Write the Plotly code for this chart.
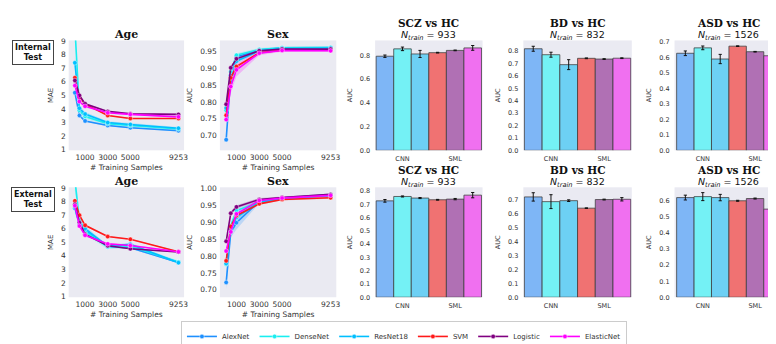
import plotly.graph_objects as go

W, H = 776, 344

MODELS = ["AlexNet", "DenseNet", "ResNet18", "SVM", "Logistic", "ElasticNet"]
LINE_COLORS = ["#1e90ff", "#19eef0", "#00bfff", "#ff1a1a", "#800080", "#ff00ff"]
BAR_COLORS = ["#7eb6f6", "#74f1f5", "#6dd0f4", "#f07272", "#b070b4", "#f070f0"]

X_SAMPLES = [100, 500, 1000, 3000, 5000, 9253]
X_TICKS = [1000, 3000, 5000, 9253]

# Internal test - Age (MAE)
AGE_INT = {
    "AlexNet":    [5.2, 3.52, 3.12, 2.78, 2.62, 2.40],
    "DenseNet":   [10.0, 3.90, 3.45, 2.92, 2.78, 2.52],
    "ResNet18":   [7.4, 4.05, 3.62, 3.00, 2.86, 2.58],
    "SVM":        [6.3, 4.85, 4.35, 3.52, 3.30, 3.30],
    "Logistic":   [6.1, 5.00, 4.38, 3.82, 3.65, 3.60],
    "ElasticNet": [5.72, 4.55, 4.20, 3.72, 3.60, 3.42],
}
AGE_INT_CI = {
    "AlexNet":    [0.10, 0.08, 0.06, 0.05, 0.05, 0.05],
    "DenseNet":   [0.60, 0.30, 0.20, 0.10, 0.10, 0.10],
    "ResNet18":   [0.50, 0.25, 0.15, 0.10, 0.10, 0.10],
    "SVM":        [0.08, 0.06, 0.05, 0.04, 0.04, 0.04],
    "Logistic":   [0.10, 0.08, 0.06, 0.05, 0.05, 0.05],
    "ElasticNet": [0.15, 0.12, 0.10, 0.08, 0.06, 0.06],
}
# Internal test - Sex (AUC)
SEX_INT = {
    "AlexNet":    [0.687, 0.880, 0.935, 0.955, 0.961, 0.962],
    "DenseNet":   [0.775, 0.890, 0.940, 0.957, 0.962, 0.963],
    "ResNet18":   [0.782, 0.860, 0.922, 0.953, 0.960, 0.961],
    "SVM":        [0.760, 0.872, 0.906, 0.947, 0.955, 0.955],
    "Logistic":   [0.793, 0.902, 0.929, 0.953, 0.958, 0.958],
    "ElasticNet": [0.747, 0.846, 0.896, 0.946, 0.954, 0.953],
}
SEX_INT_CI = {
    "AlexNet":    [0.015, 0.010, 0.006, 0.004, 0.004, 0.004],
    "DenseNet":   [0.010, 0.008, 0.006, 0.004, 0.004, 0.004],
    "ResNet18":   [0.010, 0.010, 0.006, 0.004, 0.004, 0.004],
    "SVM":        [0.006, 0.006, 0.004, 0.003, 0.003, 0.003],
    "Logistic":   [0.006, 0.005, 0.004, 0.003, 0.003, 0.003],
    "ElasticNet": [0.012, 0.020, 0.020, 0.006, 0.004, 0.004],
}
# External test - Age (MAE)
AGE_EXT = {
    "AlexNet":    [7.5, 6.30, 5.90, 4.70, 4.60, 3.52],
    "DenseNet":   [9.6, 6.60, 5.80, 4.65, 4.70, 3.55],
    "ResNet18":   [7.6, 6.50, 6.00, 4.70, 4.85, 3.50],
    "SVM":        [8.05, 7.00, 6.25, 5.42, 5.22, 4.30],
    "Logistic":   [7.8, 6.45, 5.60, 4.75, 4.52, 4.28],
    "ElasticNet": [7.7, 6.20, 5.52, 4.88, 4.76, 4.30],
}
AGE_EXT_CI = {
    "AlexNet":    [0.20, 0.15, 0.10, 0.08, 0.08, 0.06],
    "DenseNet":   [0.80, 0.40, 0.25, 0.15, 0.15, 0.10],
    "ResNet18":   [0.50, 0.30, 0.20, 0.10, 0.12, 0.08],
    "SVM":        [0.08, 0.06, 0.05, 0.04, 0.04, 0.04],
    "Logistic":   [0.10, 0.08, 0.06, 0.05, 0.05, 0.05],
    "ElasticNet": [0.12, 0.10, 0.08, 0.06, 0.06, 0.05],
}
# External test - Sex (AUC)
SEX_EXT = {
    "AlexNet":    [0.722, 0.870, 0.899, 0.962, 0.972, 0.982],
    "DenseNet":   [0.776, 0.890, 0.935, 0.960, 0.970, 0.981],
    "ResNet18":   [0.778, 0.880, 0.915, 0.960, 0.970, 0.980],
    "SVM":        [0.786, 0.888, 0.920, 0.955, 0.968, 0.973],
    "Logistic":   [0.844, 0.927, 0.946, 0.968, 0.974, 0.983],
    "ElasticNet": [0.815, 0.872, 0.925, 0.965, 0.972, 0.980],
}
SEX_EXT_CI = {
    "AlexNet":    [0.020, 0.015, 0.020, 0.005, 0.004, 0.004],
    "DenseNet":   [0.010, 0.010, 0.008, 0.004, 0.004, 0.004],
    "ResNet18":   [0.010, 0.012, 0.012, 0.005, 0.004, 0.004],
    "SVM":        [0.006, 0.006, 0.005, 0.003, 0.003, 0.003],
    "Logistic":   [0.006, 0.006, 0.005, 0.004, 0.003, 0.003],
    "ElasticNet": [0.008, 0.010, 0.010, 0.005, 0.004, 0.004],
}

# Bar panels: AUC and error per model
SCZ_INT = [0.793, 0.855, 0.812, 0.823, 0.842, 0.863]
SCZ_INT_ERR = [0.010, 0.015, 0.030, 0.003, 0.003, 0.020]
BD_INT = [0.818, 0.770, 0.690, 0.741, 0.735, 0.742]
BD_INT_ERR = [0.020, 0.020, 0.040, 0.003, 0.003, 0.003]
ASD_INT = [0.627, 0.662, 0.590, 0.673, 0.637, 0.611]
ASD_INT_ERR = [0.015, 0.012, 0.030, 0.002, 0.002, 0.025]
SCZ_EXT = [0.727, 0.760, 0.748, 0.735, 0.740, 0.770]
SCZ_EXT_ERR = [0.010, 0.004, 0.004, 0.003, 0.005, 0.020]
BD_EXT = [0.722, 0.688, 0.695, 0.641, 0.703, 0.705]
BD_EXT_ERR = [0.030, 0.050, 0.006, 0.002, 0.003, 0.012]
ASD_EXT = [0.622, 0.628, 0.622, 0.602, 0.616, 0.550]
ASD_EXT_ERR = [0.015, 0.025, 0.020, 0.003, 0.003, 0.050]

GROUP_LABELS = ["CNN", "SML"]
N_TRAIN = {"SCZ": 933, "BD": 832, "ASD": 1526}

# ---------------- layout geometry (pixels) ----------------
ROWS = [(30, 146), (185, 301)]
COLS = [(61, 177), (213, 330), (369, 477), (518, 627), (670, 776)]

BG = "#eaeaf2"
TICKFONT = dict(family="DejaVu Sans", size=7.5, color="#333333")
SERIF = "DejaVu Serif"


def xdom(c):
    return [COLS[c][0] / W, COLS[c][1] / W]


def ydom(r):
    return [1 - ROWS[r][1] / H, 1 - ROWS[r][0] / H]


fig = go.Figure()
layout = {}
annotations = []


def rgba(hexc, a):
    h = hexc.lstrip("#")
    return "rgba(%d,%d,%d,%.2f)" % (int(h[0:2], 16), int(h[2:4], 16), int(h[4:6], 16), a)


def ax_name(k):
    return ("" if k == 1 else str(k))


def add_line_panel(r, c, data, ci, yrange, ytickvals, yfmt, ytitle, title, legend):
    k = r * 5 + c + 1
    xa, ya = "x" + ax_name(k), "y" + ax_name(k)
    for i, m in enumerate(MODELS):
        vals, err = data[m], ci[m]
        upper = [v + e for v, e in zip(vals, err)]
        lower = [v - e for v, e in zip(vals, err)]
        fig.add_trace(go.Scatter(
            x=X_SAMPLES + X_SAMPLES[::-1], y=upper + lower[::-1],
            fill="toself", fillcolor=rgba(LINE_COLORS[i], 0.22), line=dict(width=0),
            mode="lines", hoverinfo="skip", showlegend=False, xaxis=xa, yaxis=ya))
    for i, m in enumerate(MODELS):
        fig.add_trace(go.Scatter(
            x=X_SAMPLES, y=data[m], mode="lines+markers", name=m,
            line=dict(color=LINE_COLORS[i], width=1.6),
            marker=dict(size=4.5, color=LINE_COLORS[i], line=dict(width=0.6, color="rgba(255,255,255,0.7)")),
            showlegend=legend, xaxis=xa, yaxis=ya))
    layout["xaxis" + ax_name(k)] = dict(
        domain=xdom(c), anchor=ya, range=[-450, 9750], tickvals=X_TICKS,
        ticktext=[str(t) for t in X_TICKS], tickfont=TICKFONT, showgrid=False,
        zeroline=False, showline=False, ticks="", ticklabelstandoff=1,
        title=dict(text="# Training Samples", font=dict(family="DejaVu Sans", size=7.5, color="#333333"), standoff=3))
    layout["yaxis" + ax_name(k)] = dict(
        domain=ydom(r), anchor=xa, range=yrange, tickvals=ytickvals,
        ticktext=[yfmt.format(v) for v in ytickvals], tickfont=TICKFONT,
        showgrid=False, zeroline=False, showline=False, ticks="", ticklabelstandoff=2,
        title=dict(text=ytitle, font=dict(family="DejaVu Sans", size=7, color="#333333"), standoff=6))
    annotations.append(dict(
        text="<b>%s</b>" % title, x=(COLS[c][0] + COLS[c][1]) / 2 / W, y=1 - (ROWS[r][0] - 6) / H,
        xref="paper", yref="paper", xanchor="center", yanchor="middle", showarrow=False,
        font=dict(family=SERIF, size=11, color="#111111")))


def add_bar_panel(r, c, vals, errs, yrange, ytickvals, title, ntrain, xr=(-0.56, 5.56)):
    k = r * 5 + c + 1
    xa, ya = "x" + ax_name(k), "y" + ax_name(k)
    for i, m in enumerate(MODELS):
        fig.add_trace(go.Bar(
            x=[i], y=[vals[i]], width=1.0, name=m,
            marker=dict(color=BAR_COLORS[i], line=dict(color="rgba(60,60,60,0.85)", width=0.9)),
            error_y=dict(type="data", array=[errs[i]], color="#111111", thickness=1, width=1.6),
            showlegend=False, xaxis=xa, yaxis=ya))
    layout["xaxis" + ax_name(k)] = dict(
        domain=xdom(c), anchor=ya, range=list(xr), tickvals=[1, 4], ticktext=GROUP_LABELS,
        tickfont=dict(family="DejaVu Sans", size=6.5, color="#333333"), showgrid=False,
        zeroline=False, showline=False, ticks="", ticklabelstandoff=3)
    layout["yaxis" + ax_name(k)] = dict(
        domain=ydom(r), anchor=xa, range=yrange, tickvals=ytickvals,
        ticktext=["{:.1f}".format(v) for v in ytickvals],
        tickfont=dict(family="DejaVu Sans", size=6.5, color="#333333"),
        showgrid=False, zeroline=False, showline=False, ticks="", ticklabelstandoff=4,
        title=dict(text="AUC", font=dict(family="DejaVu Sans", size=6.5, color="#333333"), standoff=6))
    right = 778 if c == 4 else COLS[c][1]
    cx = (COLS[c][0] + right) / 2 / W
    annotations.append(dict(
        text="<b>%s</b>" % title, x=cx, y=1 - (ROWS[r][0] - 18) / H,
        xref="paper", yref="paper", xanchor="center", yanchor="middle", showarrow=False,
        font=dict(family=SERIF, size=10.5, color="#111111")))
    annotations.append(dict(
        text="<i>N</i><sub><i>train</i></sub> = %d" % ntrain, x=cx, y=1 - (ROWS[r][0] - 14) / H,
        xref="paper", yref="paper", xanchor="center", yanchor="top", showarrow=False,
        font=dict(family="DejaVu Sans", size=9.5, color="#111111")))


age_ticks = [1, 2, 3, 4, 5, 6, 7, 8, 9]
add_line_panel(0, 0, AGE_INT, AGE_INT_CI, [0.95, 9.05], age_ticks, "{:d}", "MAE", "Age", True)
add_line_panel(0, 1, SEX_INT, SEX_INT_CI, [0.655, 0.984], [0.70, 0.75, 0.80, 0.85, 0.90, 0.95], "{:.2f}", "AUC", "Sex", False)
add_line_panel(1, 0, AGE_EXT, AGE_EXT_CI, [0.95, 9.05], age_ticks, "{:d}", "MAE", "Age", False)
add_line_panel(1, 1, SEX_EXT, SEX_EXT_CI, [0.678, 1.004], [0.70, 0.75, 0.80, 0.85, 0.90, 0.95, 1.00], "{:.2f}", "AUC", "Sex", False)

add_bar_panel(0, 2, SCZ_INT, SCZ_INT_ERR, [0, 0.926], [0, 0.2, 0.4, 0.6, 0.8], "SCZ vs HC", N_TRAIN["SCZ"])
add_bar_panel(0, 3, BD_INT, BD_INT_ERR, [0, 0.885], [0, 0.1, 0.2, 0.3, 0.4, 0.5, 0.6, 0.7, 0.8], "BD vs HC", N_TRAIN["BD"])
add_bar_panel(0, 4, ASD_INT, ASD_INT_ERR, [0, 0.71], [0, 0.1, 0.2, 0.3, 0.4, 0.5, 0.6, 0.7], "ASD vs HC", N_TRAIN["ASD"], xr=(-0.62, 5.43))
add_bar_panel(1, 2, SCZ_EXT, SCZ_EXT_ERR, [0, 0.829], [0, 0.1, 0.2, 0.3, 0.4, 0.5, 0.6, 0.7, 0.8], "SCZ vs HC", N_TRAIN["SCZ"])
add_bar_panel(1, 3, BD_EXT, BD_EXT_ERR, [0, 0.791], [0, 0.1, 0.2, 0.3, 0.4, 0.5, 0.6, 0.7], "BD vs HC", N_TRAIN["BD"])
add_bar_panel(1, 4, ASD_EXT, ASD_EXT_ERR, [0, 0.686], [0, 0.1, 0.2, 0.3, 0.4, 0.5, 0.6], "ASD vs HC", N_TRAIN["ASD"], xr=(-0.62, 5.43))

# Row labels
for lbl, yc in [("Internal<br>Test", 43), ("External<br>Test", 198)]:
    annotations.append(dict(
        text="<b>%s</b>" % lbl, x=25 / W, y=1 - yc / H, xref="paper", yref="paper",
        xanchor="center", yanchor="middle", showarrow=False,
        font=dict(family="DejaVu Sans", size=8, color="#111111"),
        bordercolor="#444444", borderwidth=1, borderpad=2, bgcolor="white", align="center"))

fig.update_layout(
    width=W, height=H, margin=dict(l=0, r=0, t=0, b=0),
    paper_bgcolor="white", plot_bgcolor=BG,
    annotations=annotations, barmode="overlay",
    showlegend=True,
    legend=dict(orientation="h", x=398 / W, xanchor="center", y=1 - 326 / H, yanchor="top",
                font=dict(family="DejaVu Sans", size=7, color="#333333"),
                bordercolor="#cccccc", borderwidth=1, bgcolor="white",
                itemwidth=30, tracegroupgap=0),
    **layout)

fig.write_html("out.html")
